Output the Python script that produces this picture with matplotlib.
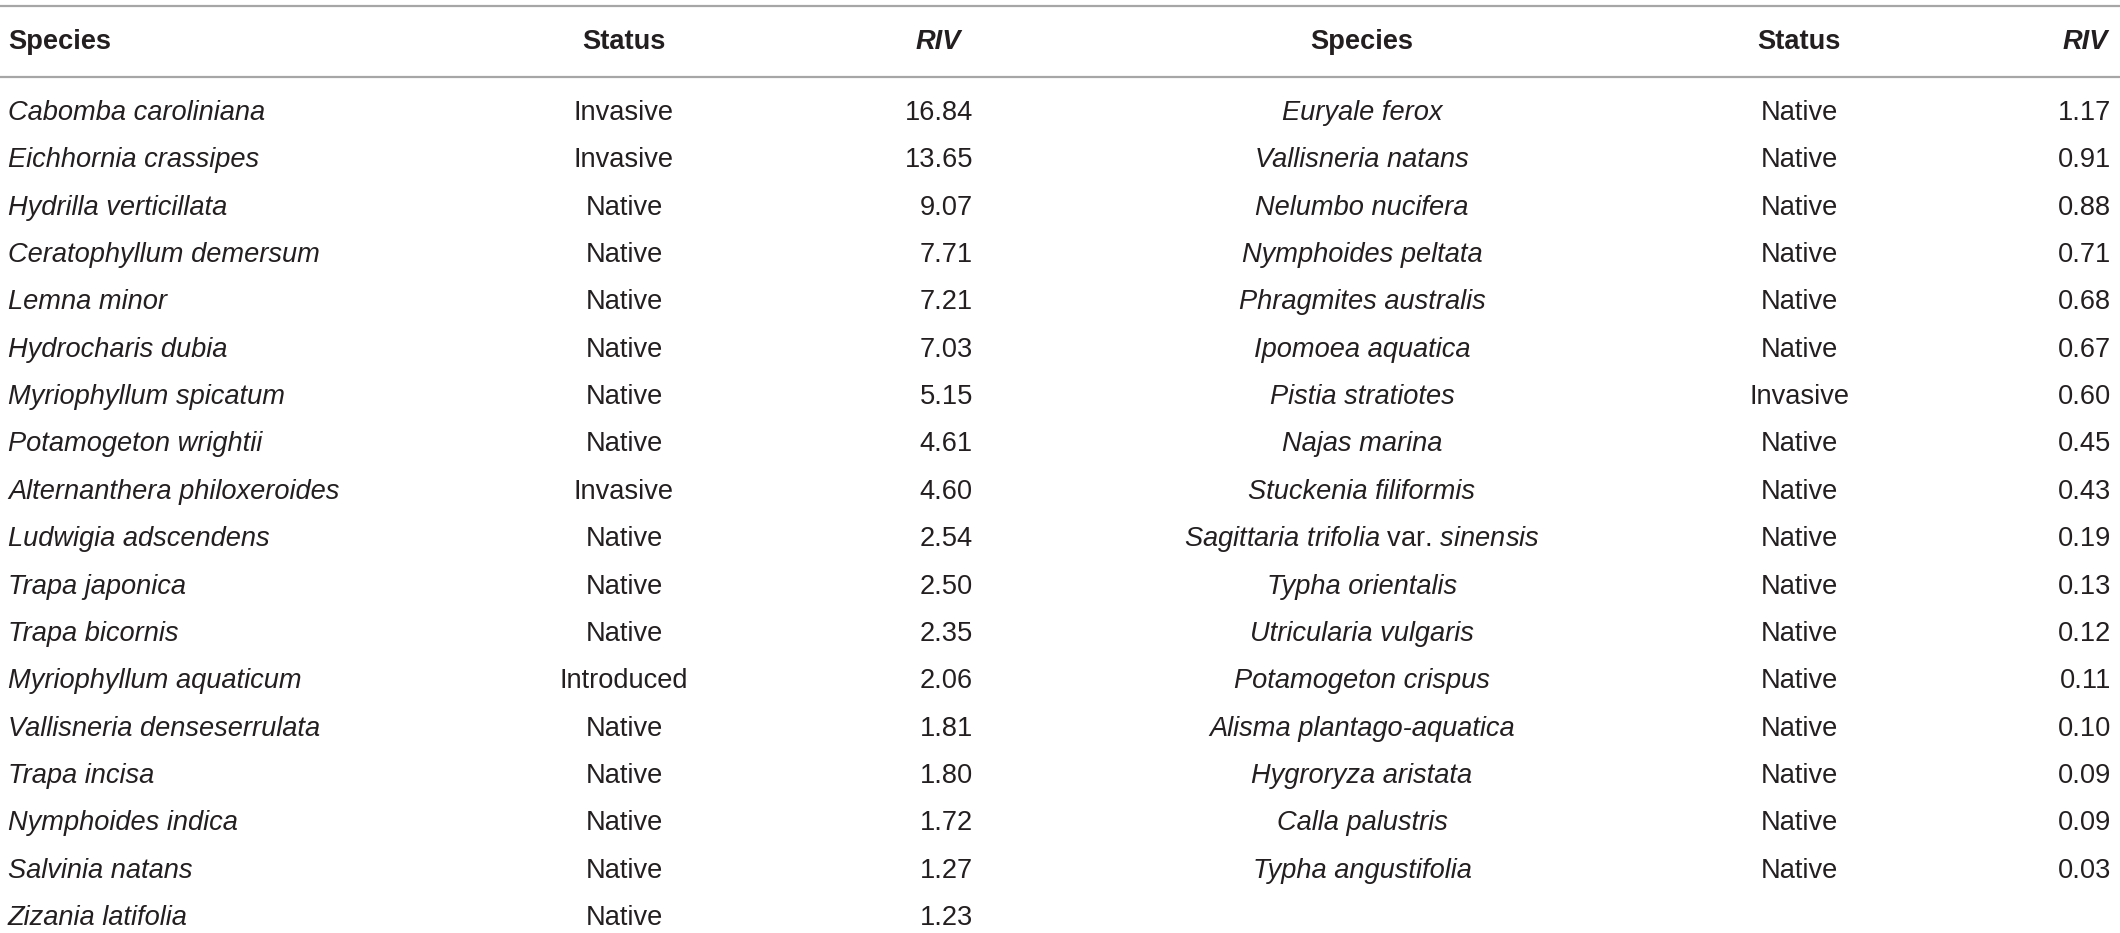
import matplotlib.pyplot as plt

plt.rcParams['mathtext.fontset'] = 'custom'
plt.rcParams['mathtext.rm'] = 'Liberation Sans'
plt.rcParams['mathtext.it'] = 'Liberation Sans:italic'

# left half of the table
species_left = ["Cabomba caroliniana", "Eichhornia crassipes", "Hydrilla verticillata",
                "Ceratophyllum demersum", "Lemna minor", "Hydrocharis dubia",
                "Myriophyllum spicatum", "Potamogeton wrightii", "Alternanthera philoxeroides",
                "Ludwigia adscendens", "Trapa japonica", "Trapa bicornis",
                "Myriophyllum aquaticum", "Vallisneria denseserrulata", "Trapa incisa",
                "Nymphoides indica", "Salvinia natans", "Zizania latifolia"]
status_left = ["Invasive", "Invasive", "Native", "Native", "Native", "Native",
               "Native", "Native", "Invasive", "Native", "Native", "Native",
               "Introduced", "Native", "Native", "Native", "Native", "Native"]
riv_left = [16.84, 13.65, 9.07, 7.71, 7.21, 7.03, 5.15, 4.61, 4.60,
            2.54, 2.50, 2.35, 2.06, 1.81, 1.80, 1.72, 1.27, 1.23]

# right half of the table
species_right = ["Euryale ferox", "Vallisneria natans", "Nelumbo nucifera",
                 "Nymphoides peltata", "Phragmites australis", "Ipomoea aquatica",
                 "Pistia stratiotes", "Najas marina", "Stuckenia filiformis",
                 "Sagittaria trifolia var. sinensis", "Typha orientalis",
                 "Utricularia vulgaris", "Potamogeton crispus", "Alisma plantago-aquatica",
                 "Hygroryza aristata", "Calla palustris", "Typha angustifolia"]
status_right = ["Native", "Native", "Native", "Native", "Native", "Native",
                "Invasive", "Native", "Native", "Native", "Native", "Native",
                "Native", "Native", "Native", "Native", "Native"]
riv_right = [1.17, 0.91, 0.88, 0.71, 0.68, 0.67, 0.60, 0.45, 0.43,
             0.19, 0.13, 0.12, 0.11, 0.10, 0.09, 0.09, 0.03]

headers = ["Species", "Status", "RIV"]

W, H = 2120, 933
fig = plt.figure(figsize=(W / 100, H / 100), dpi=100)
ax = fig.add_axes([0, 0, 1, 1])
ax.set_xlim(0, W)
ax.set_ylim(H, 0)
ax.axis('off')

txt = '#231f20'
font = 'Liberation Sans'
fs = 19.6
row0, step = 113, 47.35
head_y = 42


def species_label(name):
    # "var." stays upright, the rest of the name is italic
    if " var. " in name:
        a, b = name.split(" var. ")
        a = a.replace(" ", r"\ ")
        return rf"$\mathit{{{a}}}$ var. $\mathit{{{b}}}$", 'normal'
    return name, 'italic'


# rules
for y in [6, 77]:
    ax.axhline(y, color='#a6a6a6', lw=1.6)

# headers
hd = dict(va='center', fontsize=fs, fontweight='bold', color=txt, family=font)
ax.text(8, head_y, headers[0], ha='left', **hd)
ax.text(624, head_y, headers[1], ha='center', **hd)
ax.text(961, head_y, headers[2], ha='right', style='italic', **hd)
ax.text(1362, head_y, headers[0], ha='center', **hd)
ax.text(1799, head_y, headers[1], ha='center', **hd)
ax.text(2108, head_y, headers[2], ha='right', style='italic', **hd)

kw = dict(va='center', fontsize=fs, color=txt, family=font)
for i, (sp, st, r) in enumerate(zip(species_left, status_left, riv_left)):
    y = row0 + i * step
    label, sty = species_label(sp)
    ax.text(8, y, label, ha='left', style=sty, **kw)
    ax.text(624, y, st, ha='center', **kw)
    ax.text(973, y, f"{r:.2f}", ha='right', **kw)

for i, (sp, st, r) in enumerate(zip(species_right, status_right, riv_right)):
    y = row0 + i * step
    label, sty = species_label(sp)
    ax.text(1362, y, label, ha='center', style=sty, **kw)
    ax.text(1799, y, st, ha='center', **kw)
    ax.text(2111, y, f"{r:.2f}", ha='right', **kw)

fig.savefig('out.png', dpi=100, facecolor='white')
